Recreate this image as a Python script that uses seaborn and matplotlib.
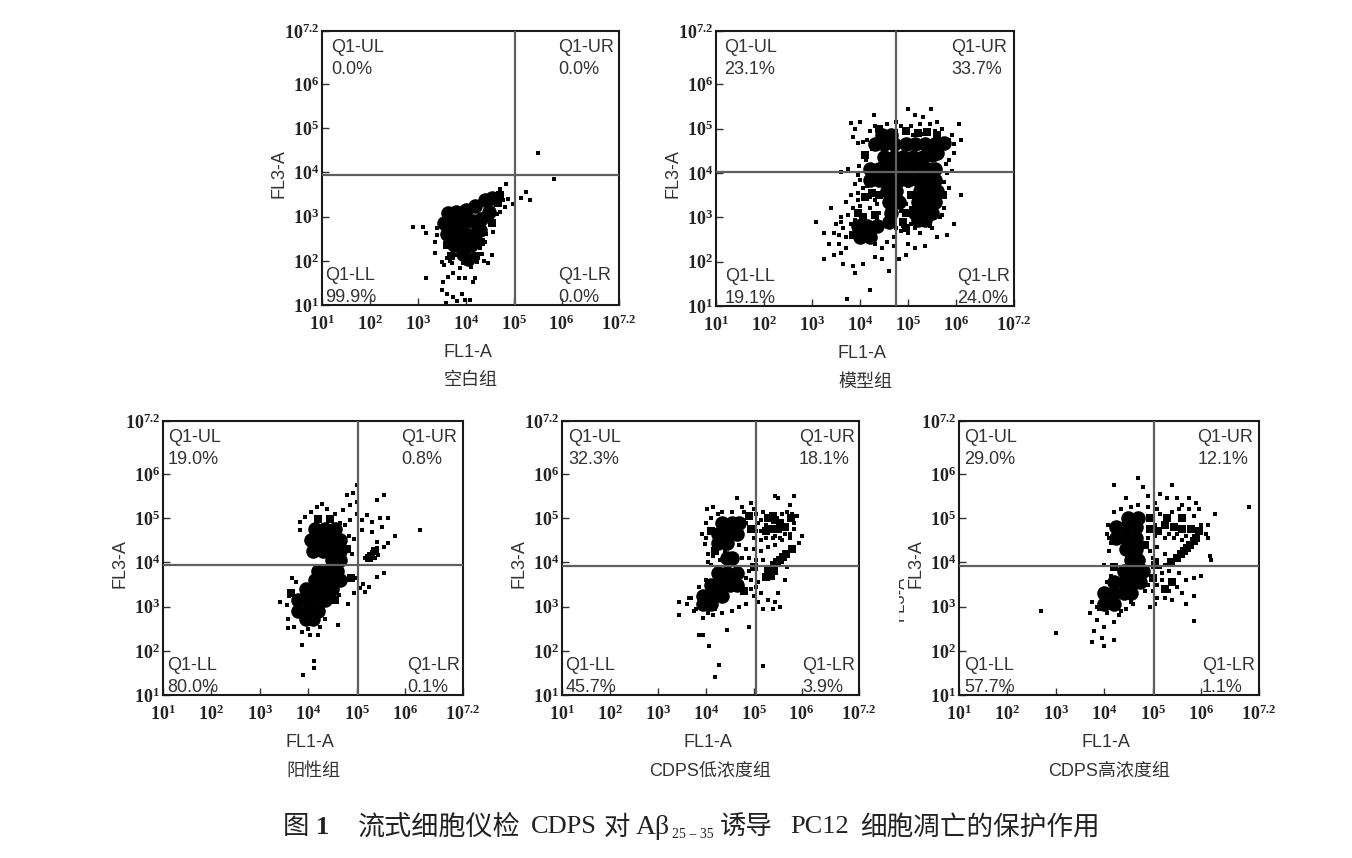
import numpy as np
import matplotlib.pyplot as plt
import matplotlib.transforms as mtrans
import seaborn as sns

# all coordinates are log10 of the channel value
# dense = solid parts of the clouds, mid = speckled parts, sparse = single events
blank_dense = [(3.62,3.08),(3.8,3.1),(4.0,3.15),(4.2,3.25),(4.4,3.38),(4.55,3.42),
               (3.55,2.85),(3.75,2.85),(3.95,2.85),(4.15,2.9),(4.32,2.95),(4.48,3.1),
               (3.6,2.6),(3.8,2.6),(4.0,2.6),(4.2,2.6),(4.3,2.7),
               (3.75,2.35),(3.95,2.35),(4.12,2.35),(3.95,2.15),(4.05,2.05)]
blank_mid = [(3.6,2.35),(4.32,2.42),(4.55,2.85),(3.7,2.12),(4.22,2.12),(4.68,3.3),(4.72,3.5)]
blank_sparse = [(5.51,4.45),(5.84,3.84),(5.26,3.56),(5.15,3.42),(5.35,3.38),(4.99,3.28),(4.89,3.39),(4.85,3.73),
                (4.72,3.62),(2.91,2.76),(3.1,2.76),(3.17,2.64),(3.17,1.6),(3.36,2.17),(3.5,1.98),(3.6,2.06),
                (3.71,1.94),(3.81,2.13),(3.88,1.83),(3.64,1.64),(3.74,1.72),(3.85,1.6),(3.99,1.6),(4.16,1.53),
                (4.2,1.6),(3.53,1.53),(3.5,1.34),(3.6,1.26),(3.74,1.19),(3.92,1.26),(3.81,1.08),(3.99,1.11),
                (4.09,1.11),(3.58,1.04),(4.23,1.98),(4.47,1.94),(4.54,2.13),(4.3,2.28),(4.4,2.43),(4.58,2.66),
                (4.5,2.88),(4.72,3.11),(4.82,3.22),(3.36,2.43),(3.4,2.58),(3.55,1.9),(3.68,2.0),(3.95,1.95),
                (4.1,1.85),(4.33,2.15),(4.38,2.0),(4.42,2.6),(4.55,2.95),(4.65,3.05),(4.78,3.38),(3.4,2.75)]

model_dense = [(4.3,4.65),(4.5,4.65),(4.7,4.65),(4.95,4.65),(5.15,4.65),(5.35,4.65),(5.55,4.65),(5.75,4.68),
               (4.45,4.85),(4.65,4.85),(4.5,4.35),(4.7,4.35),(4.9,4.35),(5.1,4.35),(5.3,4.35),(5.5,4.4),(5.6,4.45),
               (4.2,4.1),(4.4,4.1),(4.6,4.1),(4.8,4.1),(5.0,4.1),(5.2,4.1),(5.4,4.1),(5.55,4.1),
               (4.2,3.85),(4.4,3.85),(4.6,3.85),(4.8,3.85),(5.0,3.85),(5.2,3.85),(5.4,3.85),(5.55,3.85),
               (4.55,3.6),(4.75,3.6),(5.25,3.6),(5.45,3.6),(5.6,3.6),(4.6,3.35),(4.8,3.35),(5.2,3.35),
               (5.4,3.35),(5.55,3.35),(4.65,3.1),(5.15,3.1),(5.35,3.1),(5.5,3.1),(5.2,2.95),(5.35,2.95),
               (4.6,2.9),(3.95,2.8),(4.15,2.8),(4.35,2.8),(4.0,2.55),(4.2,2.55)]
model_mid = [(4.4,3.5),(4.25,3.55),(4.1,3.45),(3.95,3.1),(4.05,3.0),(4.3,3.05),(3.85,2.6),(4.9,2.9),(5.05,3.5),
             (4.95,3.1),(4.4,5.0),(4.95,4.95),(5.2,4.9),(5.4,4.92),(5.6,4.85),(4.1,4.4),(5.72,3.5),(4.95,2.75)]
model_sparse = [(3.8,5.12),(3.9,5.0),(3.85,4.8),(4.0,5.15),(4.29,5.3),(5.0,5.45),(5.15,5.3),(5.48,5.45),
                (5.3,5.25),(5.6,5.15),(5.9,4.85),(6.05,5.1),(6.1,4.75),(5.95,4.45),(5.85,4.3),(5.9,4.05),
                (3.6,4.03),(3.75,4.1),(3.9,3.75),(3.8,3.5),(5.85,3.65),(6.1,3.5),(5.75,3.2),(5.95,2.85),
                (3.08,2.9),(3.4,3.2),(3.6,3.0),(3.25,2.65),(3.45,2.65),(3.35,2.4),(3.55,2.4),(3.45,2.15),
                (3.6,2.2),(3.25,2.05),(3.65,1.95),(3.85,1.9),(4.05,1.95),(4.3,2.1),(4.45,2.05),(4.6,1.8),
                (3.9,1.75),(4.2,1.35),(3.72,1.15),(4.8,2.05),(4.95,2.15),(5.15,2.3),(5.35,2.35),(5.6,2.55),
                (5.8,2.6),(5.0,2.4),(4.7,2.35),(4.45,2.3),(3.7,2.3),(3.5,2.85),(3.7,3.35),(3.95,3.4),
                (4.2,3.2),(4.35,3.3),(5.0,3.7),(5.1,3.75),(5.25,2.65),(5.45,2.8),(5.5,2.75),(4.85,2.7),
                (3.95,3.55),(4.05,3.65),(4.0,3.25),(3.85,3.2),(3.75,3.05),(3.65,2.75),(3.55,2.6),(3.7,2.55),
                (3.8,2.85),(3.9,2.95),(4.2,3.45),(4.15,3.7),(4.3,3.4),(4.4,3.1),(4.35,2.95),(4.45,2.85),
                (4.3,2.4),(4.55,2.45),(4.7,2.55),(4.75,2.75),(4.9,2.8),(5.05,2.85),(5.0,2.65),(5.15,2.75),
                (5.05,3.2),(4.95,3.3),(4.85,3.15),(5.65,3.0),(5.7,3.05),(5.75,3.8),(5.8,4.0),(5.78,4.2),
                (4.2,4.95),(4.3,5.05),(4.55,5.1),(4.75,5.15),(4.85,5.05),(5.05,5.05),(5.25,5.1),(5.45,5.1),
                (5.7,5.0),(5.85,4.75),(5.95,4.65),(4.15,4.75),(4.05,4.7),(3.95,4.68),(4.25,4.55),(4.12,4.3),
                (3.98,4.15),(3.95,3.95),(4.0,3.85),(4.75,4.95),(5.1,4.85),(5.55,4.95),(5.3,4.88),(3.6,2.9)]

positive_dense = [(4.15,4.75),(4.35,4.75),(4.55,4.75),(4.05,4.5),(4.25,4.5),(4.45,4.5),(4.65,4.5),
                  (4.1,4.25),(4.3,4.25),(4.5,4.25),(4.65,4.25),(4.5,4.05),(4.65,4.05),
                  (4.2,3.8),(4.4,3.8),(4.6,3.8),(4.15,3.6),(4.35,3.6),(4.55,3.6),(4.65,3.6),
                  (3.95,3.4),(4.15,3.4),(4.35,3.4),(4.5,3.4),(3.8,3.15),(4.0,3.15),(4.2,3.15),(4.35,3.15),
                  (3.8,2.9),(4.0,2.9),(4.2,2.9),(3.95,2.72),(4.1,2.72)]
positive_mid = [(5.3,4.15),(5.38,4.25),(5.25,4.1),(4.8,4.3),(4.2,4.98),(4.45,4.98),(4.88,3.65),(3.65,3.3),(4.55,3.15)]
positive_sparse = [(3.42,3.11),(3.87,2.13),(4.13,1.77),(4.13,1.6),(3.9,1.45),(4.61,2.58),(6.32,4.73),(5.56,5.52),
                   (5.42,5.42),(5.0,5.75),(4.93,5.58),(4.8,5.52),(5.0,5.37),(4.87,5.3),(4.28,5.33),(4.18,5.26),
                   (4.38,5.22),(4.56,5.1),(4.73,5.18),(5.0,5.1),(5.21,5.07),(5.11,4.96),(5.32,4.92),(5.49,5.0),
                   (5.66,5.0),(5.52,4.8),(5.32,4.69),(5.11,4.73),(4.94,4.54),(4.87,4.96),(4.76,4.84),(5.8,4.6),
                   (5.66,4.43),(5.56,4.35),(5.42,4.32),(5.32,4.24),(5.45,4.17),(5.39,4.09),(5.28,4.05),(5.18,4.09),
                   (5.42,4.47),(5.42,3.68),(5.56,3.75),(5.14,3.52),(5.0,3.64),(5.07,3.41),(4.94,3.3),(4.83,3.07),
                   (4.63,3.26),(4.35,2.73),(4.21,2.36),(4.04,2.36),(3.87,2.43),(3.59,2.51),(3.59,2.73),(3.57,3.03),
                   (3.66,3.64),(3.83,4.92),(3.83,4.73),(3.93,5.03),(4.05,5.15),(4.65,4.9),(4.85,4.6),(4.9,4.2),
                   (5.25,3.45),(5.18,3.32),(3.7,2.55),(4.0,2.5),(4.25,2.55),(3.6,3.25),(3.75,3.55)]

low_dense = [(4.35,4.9),(4.55,4.9),(4.7,4.9),(4.25,4.65),(4.45,4.65),(4.65,4.65),(4.25,4.45),(4.45,4.45),
             (4.45,4.1),(4.55,4.1),(4.25,3.75),(4.45,3.75),(4.65,3.75),(4.1,3.5),(4.3,3.5),(4.5,3.5),(4.65,3.5),
             (3.95,3.25),(4.15,3.25),(4.35,3.25),(3.95,3.05),(4.1,3.05)]
low_mid = [(5.3,5.0),(5.45,4.95),(5.35,4.75),(5.5,4.75),(5.65,4.8),(5.25,4.7),(5.78,5.0),(5.8,4.3),
           (5.68,4.18),(5.55,4.05),(5.42,3.95),(5.3,3.8),(5.37,3.7),(5.25,3.68),(4.2,4.25),(4.1,4.7),
           (4.95,4.75),(4.9,5.05),(4.8,3.35),(5.0,3.9),(5.62,4.12),(5.48,4.0),(5.4,5.05),(5.55,4.9),(5.42,3.8)]
low_sparse = [(3.45,3.1),(3.45,2.8),(3.6,3.05),(3.75,2.9),(3.85,2.35),(3.95,2.35),(4.07,2.12),(4.28,1.68),
              (4.2,1.4),(4.45,2.47),(4.9,2.55),(5.2,1.65),(4.95,5.35),(4.65,5.45),(4.15,5.25),(4.02,5.22),
              (4.75,5.25),(5.45,5.5),(5.5,5.45),(5.85,5.5),(5.75,5.3),(5.9,5.05),(6.0,4.6),(5.95,4.45),
              (5.85,4.9),(5.05,5.1),(5.1,4.9),(5.0,4.55),(5.15,4.5),(5.0,4.3),(5.15,4.25),(5.3,4.35),
              (5.45,4.4),(5.2,4.05),(5.05,4.05),(4.9,4.1),(3.98,4.42),(4.05,4.2),(4.1,3.95),(4.0,3.6),
              (3.85,3.45),(3.7,3.2),(3.9,3.3),(4.85,3.65),(4.95,3.6),(5.05,3.45),(5.15,3.3),(5.3,3.15),
              (5.45,3.1),(5.55,3.0),(5.4,2.95),(4.85,3.05),(4.7,3.0),(4.55,2.9),(4.35,2.85),(4.15,2.8),
              (5.1,3.1),(5.2,2.95),(5.65,3.6),(5.7,3.9),(5.5,3.3),(5.75,4.55),(5.6,4.5),(5.45,4.6),
              (5.2,5.15),(5.15,4.95),(5.25,4.85),(5.6,5.1),(5.7,5.15),(5.8,5.1),(5.85,4.75),(5.75,4.65),
              (5.65,4.65),(5.55,4.55),(5.4,4.55),(5.25,4.55),(5.15,4.7),(5.05,4.7),(4.85,4.9),(4.8,5.15),
              (5.0,5.2),(4.55,5.15),(4.35,5.15),(4.25,5.1),(4.1,5.0),(4.0,4.9),(3.92,4.65),(4.0,4.55),
              (4.05,4.0),(4.15,4.15),(4.3,4.05),(4.4,4.25),(4.7,4.4),(4.75,4.1),(4.85,4.3),(4.9,3.8),
              (4.95,3.4),(5.0,3.25),(5.1,3.55),(4.2,2.95),(4.05,2.85),(3.8,2.95),(3.65,3.2),(3.95,2.75)]

high_dense = [(4.5,5.0),(4.7,5.0),(4.25,4.8),(4.45,4.8),(4.65,4.8),(4.25,4.55),(4.45,4.55),(4.65,4.55),
              (4.45,4.3),(4.65,4.3),(4.55,4.05),(4.7,4.05),(4.4,3.8),(4.6,3.8),(4.8,3.8),
              (4.2,3.55),(4.4,3.55),(4.6,3.55),(4.75,3.55),(4.0,3.3),(4.2,3.3),(4.4,3.3),(4.55,3.3),(4.0,3.05),(4.2,3.05)]
high_mid = [(5.25,4.85),(5.45,4.8),(5.6,4.75),(5.8,4.75),(5.3,5.0),(5.6,5.0),(5.9,4.55),(5.78,4.4),
            (5.65,4.25),(5.5,4.1),(5.38,4.0),(4.95,4.75),(4.95,5.0),(4.85,4.4),(5.0,3.65),(5.85,4.48),
            (4.2,3.9),(5.05,3.95),(5.4,3.55),(5.25,3.4),(5.72,4.33),(5.58,4.18),(5.12,4.7),(5.95,4.7)]
high_sparse = [(2.7,2.9),(3.0,2.4),(3.75,3.1),(3.7,2.85),(3.85,2.7),(3.8,2.45),(4.0,2.55),(3.75,2.2),
               (3.95,2.3),(4.2,2.25),(4.0,2.1),(4.2,2.65),(4.45,5.45),(4.2,5.75),(4.7,5.9),(4.8,5.7),
               (4.9,5.5),(5.15,5.55),(5.4,5.75),(5.05,5.35),(5.3,5.45),(5.5,5.45),(5.75,5.45),(5.9,5.35),
               (5.6,5.3),(5.95,5.2),(6.3,5.1),(7.0,5.25),(6.15,4.85),(6.15,4.55),(6.2,4.05),(6.18,4.15),
               (5.25,4.55),(5.45,4.55),(5.6,4.5),(5.1,4.35),(5.25,4.2),(5.1,4.05),(5.25,3.95),(5.05,4.6),
               (4.1,4.25),(4.15,4.45),(4.0,3.95),(4.15,3.7),(4.05,3.55),(5.2,3.75),(5.35,3.8),(5.55,3.75),
               (5.7,3.6),(5.85,3.65),(5.5,3.45),(5.6,3.3),(5.4,3.15),(5.25,3.2),(5.1,3.2),(5.05,3.05),
               (4.95,3.0),(5.85,3.25),(6.0,3.7),(5.7,3.05),(5.85,2.68),(4.85,3.35),(4.6,3.05),(4.45,2.95),
               (5.15,5.1),(5.4,5.15),(5.55,5.2),(5.75,5.2),(5.85,5.05),(6.0,4.85),(5.95,4.7),(5.7,4.6),
               (5.5,4.65),(5.35,4.65),(5.15,4.7),(5.05,4.85),(5.1,5.2),(4.9,5.25),(4.7,5.3),(4.55,5.25),
               (4.35,5.2),(4.2,5.15),(4.08,4.85),(4.05,4.65),(4.1,4.55),(4.9,4.55),(4.95,4.25),(5.0,4.1),
               (5.2,3.6),(5.1,3.5),(5.35,3.35),(4.9,3.5),(5.0,3.35),(3.9,2.95),(4.05,2.85),(4.25,2.95),
               (3.85,3.0),(4.35,2.9),(4.55,3.1),(5.15,3.9),(6.1,4.65),(4.3,2.8)]

dense_sets = [blank_dense, model_dense, positive_dense, low_dense, high_dense]
mid_sets = [blank_mid, model_mid, positive_mid, low_mid, high_mid]
sparse_sets = [blank_sparse, model_sparse, positive_sparse, low_sparse, high_sparse]

# gate positions, log10
gate_x = [5.03, 4.74, 5.03, 5.04, 5.02]
gate_y = [3.94, 4.02, 3.95, 3.93, 3.93]

group_names = ['空白组', '模型组', '阳性组', 'CDPS低浓度组', 'CDPS高浓度组']
quadrant_names = ['Q1-UL', 'Q1-UR', 'Q1-LL', 'Q1-LR']
quadrant_pct = [['0.0%', '0.0%', '99.9%', '0.0%'],
                ['23.1%', '33.7%', '19.1%', '24.0%'],
                ['19.0%', '0.8%', '80.0%', '0.1%'],
                ['32.3%', '18.1%', '45.7%', '3.9%'],
                ['29.0%', '12.1%', '57.7%', '1.1%']]
tick_exp = [1, 2, 3, 4, 5, 6, 7.2]
tick_labels = [r'$\mathbf{10^{%g}}$' % e for e in tick_exp]

# panel boxes in pixels: left, right, top, bottom
boxes = [(322, 619, 31, 305), (716, 1014, 31, 306), (163, 463, 421, 695), (562, 859, 421, 695), (959, 1259, 421, 695)]
# left edge of the quadrant text, fraction of axes width
quad_left = [(0.03, 0.795, 0.011, 0.795), (0.026, 0.789, 0.029, 0.81), (0.017, 0.794, 0.013, 0.813),
             (0.022, 0.798, 0.011, 0.81), (0.018, 0.794, 0.017, 0.809)]
W, H = 1352, 858

sns.set_theme(style='ticks')
plt.rcParams['font.family'] = ['Liberation Sans', 'Noto Sans CJK SC']
plt.rcParams['mathtext.fontset'] = 'custom'
plt.rcParams['mathtext.bf'] = 'Liberation Serif:bold'
plt.rcParams['mathtext.rm'] = 'Liberation Serif:bold'

fig = plt.figure(figsize=(W / 100, H / 100), dpi=100, facecolor='white')

for i in range(5):
    left, right, top, bottom = boxes[i]
    ax = fig.add_axes([left / W, 1 - bottom / H, (right - left) / W, (bottom - top) / H])
    ax.set_xscale('log')
    ax.set_yscale('log')
    for pts, size, marker in [(dense_sets[i], 110, 'o'), (mid_sets[i], 30, 's'), (sparse_sets[i], 5, 's')]:
        arr = 10 ** np.array(pts)
        sns.scatterplot(x=arr[:, 0], y=arr[:, 1], ax=ax, s=size, marker=marker, color='black', linewidth=0, zorder=2)
    ax.axvline(10 ** gate_x[i], color='#5f5f5f', lw=1.6, zorder=3)
    ax.axhline(10 ** gate_y[i], color='#5f5f5f', lw=1.6, zorder=3)
    ax.set_xlim(10, 10 ** 7.2)
    ax.set_ylim(10, 10 ** 7.2)
    ticks = [10.0 ** e for e in tick_exp]
    ax.set_xticks(ticks, tick_labels, fontsize=13, color='#222222')
    ax.set_yticks(ticks, tick_labels, fontsize=13, color='#222222')
    ax.minorticks_off()
    ax.tick_params(axis='x', direction='in', length=5, width=1, pad=7, color='#333333')
    ax.tick_params(axis='y', direction='in', length=5, width=1, pad=2, color='#333333')
    for s in ax.spines.values():
        s.set_linewidth(1.5)
        s.set_color('#1a1a1a')
    ax.set_xlabel('FL1-A', fontsize=13, color='#333333', va='center')
    ax.set_ylabel('FL3-A', fontsize=13, color='#333333', va='center')
    ax.xaxis.set_label_coords(0.49, -0.172)
    ax.yaxis.set_label_coords(-0.145, 0.48)
    for j in range(4):
        y_top = 0.061 if j < 2 else 0.891
        ax.text(quad_left[i][j], 1 - y_top, quadrant_names[j], transform=ax.transAxes, fontsize=13,
                color='#333333', va='center', zorder=4)
        ax.text(quad_left[i][j], 1 - y_top - 0.08, quadrant_pct[i][j], transform=ax.transAxes, fontsize=13,
                color='#333333', va='center', zorder=4)
    fig.text((left + right) / 2 / W, 1 - (bottom + 76) / H, group_names[i], fontsize=13, color='#333333',
             ha='center', va='center')

# ghost of an axis label left over in the scan, beside the last panel
ghost = fig.text(899 / W, 1 - 598 / H, 'FL3-A', rotation=90, fontsize=12, color='#333333', ha='center', va='center')
ghost.set_clip_box(mtrans.Bbox([[899, H - 625], [908, H - 570]]))
ghost.set_clip_on(True)

# caption, placed piece by piece because the print uses wide spacing
caption = [(283, '图', 'Noto Sans CJK SC', 'normal', 19), (316, '1', 'Liberation Serif', 'bold', 19),
           (358, '流式细胞仪检', 'Noto Sans CJK SC', 'normal', 19.5), (531, 'CDPS', 'Liberation Serif', 'normal', 19),
           (604, '对', 'Noto Sans CJK SC', 'normal', 19), (636, 'Aβ', 'Liberation Serif', 'normal', 20),
           (720, '诱导', 'Noto Sans CJK SC', 'normal', 19), (790, 'PC12', 'Liberation Serif', 'normal', 19),
           (860, '细胞凋亡的保护作用', 'Noto Sans CJK SC', 'normal', 19.2)]
for x, s, fam, weight, size in caption:
    fig.text(x / W, 1 - 827 / H, s, family=fam, weight=weight, fontsize=size, color='#222222', va='center')
fig.text(672 / W, 1 - 835 / H, '25 – 35', family='Liberation Serif', fontsize=10, color='#222222', va='center')

fig.savefig('out.png', dpi=100)
